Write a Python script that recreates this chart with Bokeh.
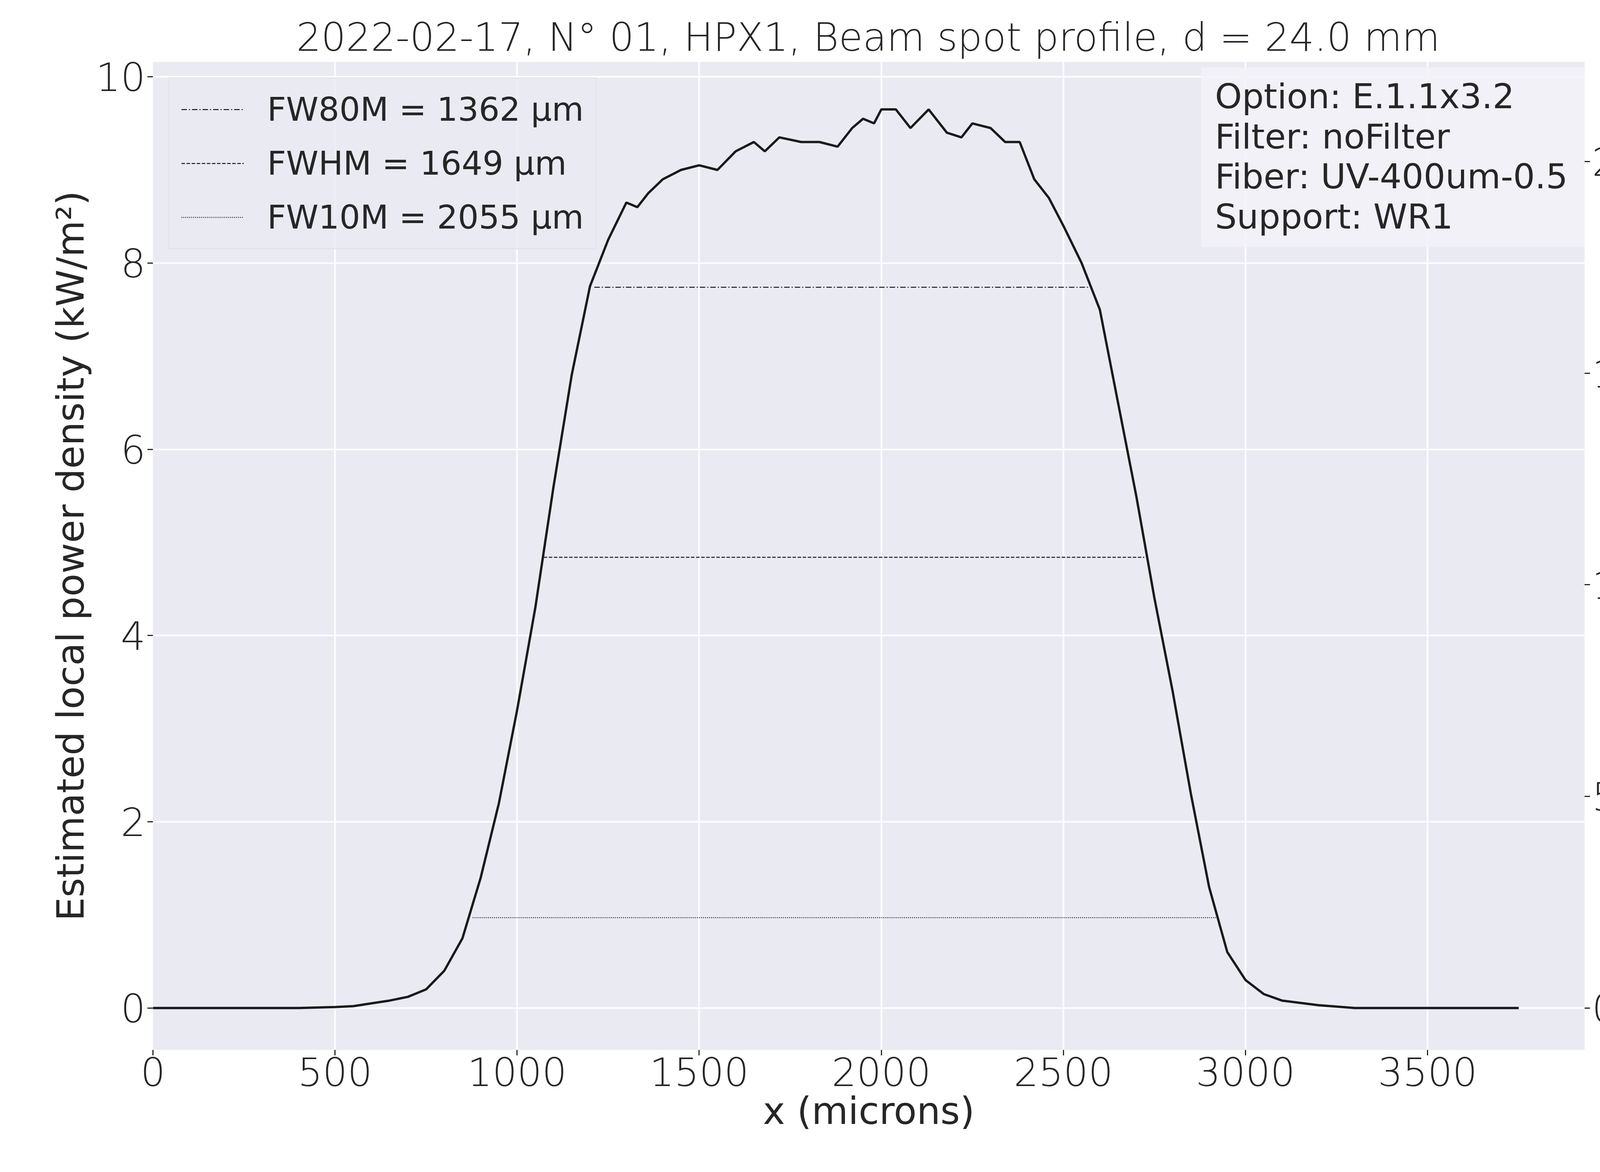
from bokeh.plotting import figure
from bokeh.models import Range1d, LinearAxis, FixedTicker, Legend, LegendItem, Label, BoxAnnotation
from bokeh.embed import file_html
from bokeh.resources import INLINE

x_um = [0, 200, 400, 500, 550, 600, 650, 700, 750, 800, 850, 900, 950, 1000, 1050, 1100, 1150, 1200,
        1250, 1300, 1330, 1360, 1400, 1450, 1500, 1550, 1600, 1650, 1680, 1720, 1780, 1830, 1880,
        1920, 1950, 1980, 2000, 2040, 2080, 2130, 2180, 2220, 2250, 2300, 2340, 2380, 2420, 2460,
        2500, 2550, 2600, 2650, 2700, 2750, 2800, 2850, 2900, 2950, 3000, 3050, 3100, 3200, 3300,
        3500, 3750]
power = [0, 0, 0, 0.01, 0.02, 0.05, 0.08, 0.12, 0.2, 0.4, 0.75, 1.4, 2.2, 3.2, 4.3, 5.6, 6.8, 7.75,
         8.25, 8.65, 8.6, 8.75, 8.9, 9.0, 9.05, 9.0, 9.2, 9.3, 9.2, 9.35, 9.3, 9.3, 9.25,
         9.45, 9.55, 9.5, 9.65, 9.65, 9.45, 9.65, 9.4, 9.35, 9.5, 9.45, 9.3, 9.3, 8.9, 8.7,
         8.4, 8.0, 7.5, 6.5, 5.5, 4.4, 3.4, 2.3, 1.3, 0.6, 0.3, 0.15, 0.08, 0.03, 0.0,
         0, 0]
level_names = ["FW80M = 1362 μm", "FWHM = 1649 μm", "FW10M = 2055 μm"]
level_y = [7.74, 4.84, 0.97]
level_x0 = [1212, 1073, 878]
level_x1 = [2570, 2722, 2920]
level_dash = ["14 5 3 5", "9 4", "2 3"]
info_lines = ["Option: E.1.1x3.2", "Filter: noFilter", "Fiber: UV-400um-0.5", "Support: WR1"]
x_ticks = [0, 500, 1000, 1500, 2000, 2500, 3000, 3500]
y_ticks = [0, 2, 4, 6, 8, 10]
klux_ticks = [0, 500, 1000, 1500, 2000]
klux_per_kw = 220.0

FONT = "DejaVu Sans"
TXT = "#262626"
TICK_FS = "100px"

p = figure(frame_width=3665, frame_height=2529, output_backend="svg", toolbar_location=None,
           x_range=Range1d(0, 3931), y_range=Range1d(-0.45, 10.16),
           min_border_left=391, min_border_right=400, min_border_top=158, min_border_bottom=290,
           background_fill_color="#EAEAF2", border_fill_color="white", outline_line_color=None)
p.extra_y_ranges = {"klux": Range1d(-0.45 * klux_per_kw, 10.16 * klux_per_kw)}

p.title.text = "2022-02-17, N° 01, HPX1, Beam spot profile, d = 24.0 mm"
p.title.align = "center"
p.title.text_font = FONT
p.title.text_font_size = "100px"
p.title.text_font_style = "normal"
p.title.text_color = TXT


def style(ax):
    ax.axis_line_color = None
    ax.major_tick_line_color = TXT
    ax.major_tick_line_width = 3
    ax.major_tick_out = 14
    ax.major_tick_in = 0
    ax.minor_tick_line_color = None
    ax.major_label_text_font = FONT
    ax.major_label_text_font_size = TICK_FS
    ax.major_label_text_color = TXT
    ax.axis_label_text_font = FONT
    ax.axis_label_text_font_size = "96px"
    ax.axis_label_text_font_style = "normal"
    ax.axis_label_text_color = TXT


style(p.xaxis[0])
style(p.yaxis[0])
p.xaxis[0].ticker = FixedTicker(ticks=x_ticks)
p.yaxis[0].ticker = FixedTicker(ticks=y_ticks)
p.xaxis[0].axis_label = "x (microns)"
p.yaxis[0].axis_label = "Estimated local power density (kW/m²)"

r_ax = LinearAxis(y_range_name="klux", axis_label="Illuminance (klux)", ticker=FixedTicker(ticks=klux_ticks))
style(r_ax)
p.add_layout(r_ax, "right")

p.xgrid.grid_line_color = "white"
p.ygrid.grid_line_color = "white"
p.xgrid.grid_line_width = 4
p.ygrid.grid_line_width = 4

p.line(x_um, power, line_color="#1a1a1a", line_width=6)

items = []
for name, y, a, b, d in zip(level_names, level_y, level_x0, level_x1, level_dash):
    r = p.line([a, b], [y, y], line_color="#1a1a1a", line_width=2.5, line_dash=d)
    items.append(LegendItem(label=name, renderers=[r]))

leg = Legend(items=items, location="top_left")
leg.label_text_font = FONT
leg.label_text_font_size = "84px"
leg.label_text_color = TXT
leg.background_fill_color = "#EAEAF2"
leg.background_fill_alpha = 0.8
leg.border_line_color = "#DCDCE4"
leg.border_line_width = 3
leg.glyph_width = 160
leg.glyph_height = 60
leg.label_height = 60
leg.spacing = 40
leg.padding = 30
leg.margin = 40
leg.label_standoff = 60
p.add_layout(leg)

p.add_layout(BoxAnnotation(left=2878, right=3931, top=10.1, bottom=8.17,
                           fill_color="#F2F2F7", fill_alpha=0.9, line_color=None))
for i, t in enumerate(info_lines):
    p.add_layout(Label(x=2916, y=9.79 - i * 0.43, text=t, text_baseline="middle",
                       text_font=FONT, text_font_size="88px", text_color=TXT))

open("out.html", "w").write(file_html(p, INLINE))
